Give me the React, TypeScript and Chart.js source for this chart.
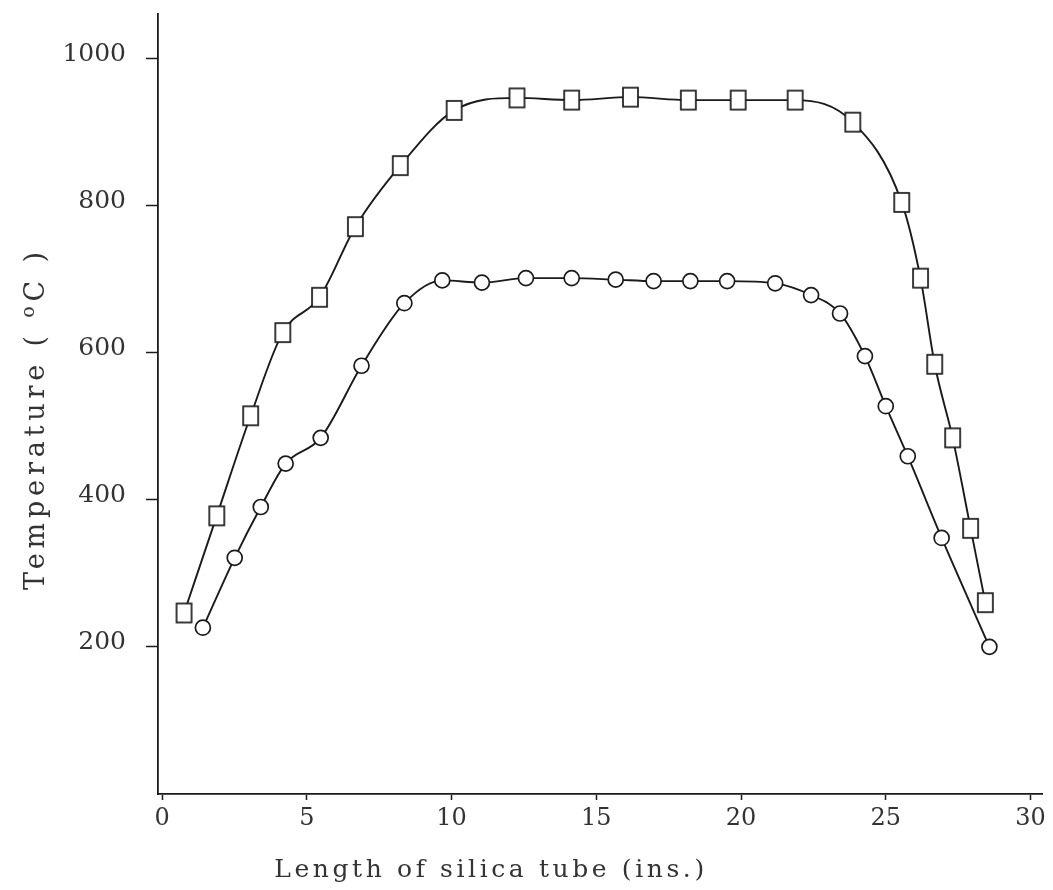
import React, { useEffect, useRef } from "react";
import { Chart, registerables } from "chart.js";

Chart.register(...registerables);

// Squares series (upper curve)
const squareX = [0.76, 1.89, 3.06, 4.17, 5.44, 6.68, 8.23, 10.09, 12.26, 14.15, 16.18, 18.18, 19.9, 21.87, 23.86, 25.55, 26.2, 26.69, 27.31, 27.93, 28.44];
const squareY = [246, 378, 514, 627, 675, 771, 854, 929, 946, 943, 947, 943, 943, 943, 913, 804, 701, 584, 484, 361, 260];

// Circles series (lower curve)
const circleX = [1.41, 2.51, 3.41, 4.27, 5.48, 6.89, 8.37, 9.68, 11.05, 12.57, 14.15, 15.67, 16.98, 18.25, 19.52, 21.18, 22.42, 23.42, 24.28, 25.0, 25.76, 26.93, 28.58];
const circleY = [226, 321, 390, 449, 484, 582, 667, 698, 695, 701, 701, 699, 697, 697, 697, 694, 678, 653, 595, 527, 459, 348, 200];

const xTicks = [0, 5, 10, 15, 20, 25, 30];
const yTicks = [200, 400, 600, 800, 1000];

const xTitle = "Length of silica tube (ins.)";
const yTitleParts = ["Temperature ( ", "o", "C )"];

const FONT = "'DejaVu Serif', 'Liberation Serif', serif";
const INK = "#1a1a1a";
const TEXT = "#333";

function makeRectStyle(w: number, h: number, lw: number) {
  const c = document.createElement("canvas");
  c.width = w + 4;
  c.height = h + 4;
  const ctx = c.getContext("2d")!;
  ctx.fillStyle = "#fff";
  ctx.fillRect(2, 2, w, h);
  ctx.strokeStyle = INK;
  ctx.lineWidth = lw;
  ctx.strokeRect(2, 2, w, h);
  return c;
}

const titlesPlugin = {
  id: "titles",
  afterDraw(chart: any) {
    const ctx = chart.ctx as CanvasRenderingContext2D;
    const xs = chart.scales.x;
    // x title
    ctx.save();
    ctx.fillStyle = TEXT;
    ctx.font = `25px ${FONT}`;
    ctx.textBaseline = "alphabetic";
    ctx.textAlign = "left";
    const target = 430;
    const w0 = ctx.measureText(xTitle).width;
    const ls = Math.max(0, (target - w0) / (xTitle.length - 1));
    (ctx as any).letterSpacing = `${ls}px`;
    const cx = xs.getPixelForValue(11.3);
    ctx.fillText(xTitle, cx - target / 2, 877);
    ctx.restore();

    // y title
    ctx.save();
    ctx.fillStyle = TEXT;
    ctx.translate(44, 421);
    ctx.rotate(-Math.PI / 2);
    ctx.textBaseline = "alphabetic";
    ctx.textAlign = "left";
    const big = `27px ${FONT}`;
    const small = `19px ${FONT}`;
    ctx.font = big;
    const w1 = ctx.measureText(yTitleParts[0]).width;
    const w3 = ctx.measureText(yTitleParts[2]).width;
    ctx.font = small;
    const w2 = ctx.measureText(yTitleParts[1]).width;
    const total = w1 + w2 + w3;
    const target2 = 338;
    const ls2 = Math.max(0, (target2 - total) / 17);
    (ctx as any).letterSpacing = `${ls2}px`;
    let x = -target2 / 2;
    ctx.font = big;
    ctx.fillText(yTitleParts[0], x, 0);
    x += w1 + ls2 * yTitleParts[0].length;
    ctx.font = small;
    ctx.fillText(yTitleParts[1], x, -10);
    x += w2 + ls2;
    ctx.font = big;
    ctx.fillText(yTitleParts[2], x, 0);
    ctx.restore();
  },
};

export default function App() {
  const ref = useRef<HTMLCanvasElement | null>(null);

  useEffect(() => {
    if (!ref.current) return;
    const rectStyle = makeRectStyle(15, 19, 1.7);
    const chart = new Chart(ref.current, {
      type: "scatter",
      data: {
        datasets: [
          {
            label: "squares",
            data: squareX.map((x, i) => ({ x, y: squareY[i] })),
            showLine: true,
            borderColor: INK,
            borderWidth: 1.9,
            cubicInterpolationMode: "monotone",
            pointStyle: rectStyle as any,
            pointRadius: 9,
          },
          {
            label: "circles",
            data: circleX.map((x, i) => ({ x, y: circleY[i] })),
            showLine: true,
            borderColor: INK,
            borderWidth: 1.9,
            cubicInterpolationMode: "monotone",
            pointStyle: "circle",
            pointRadius: 7.5,
            pointBackgroundColor: "#fff",
            pointBorderColor: INK,
            pointBorderWidth: 1.7,
          },
        ],
      },
      options: {
        animation: false,
        responsive: true,
        maintainAspectRatio: false,
        layout: { padding: { left: 0, right: 8, top: 14, bottom: 0 } },
        plugins: {
          legend: { display: false },
          tooltip: { enabled: false },
          title: { display: false },
        },
        scales: {
          x: {
            type: "linear",
            min: -0.14,
            max: 30.4,
            afterBuildTicks: (s: any) => {
              s.ticks = xTicks.map((v) => ({ value: v }));
            },
            afterFit: (s: any) => {
              s.height = 96;
            },
            border: { display: true, color: INK, width: 1.8 },
            grid: { display: true, drawOnChartArea: false, drawTicks: true, tickLength: 6, color: INK, tickWidth: 1.5 },
            ticks: {
              autoSkip: false,
              maxRotation: 0,
              padding: 4,
              color: TEXT,
              font: { family: FONT, size: 24 },
              callback: (v: any) => String(v),
            },
          },
          y: {
            type: "linear",
            min: 0,
            max: 1060,
            afterBuildTicks: (s: any) => {
              s.ticks = yTicks.map((v) => ({ value: v }));
            },
            afterFit: (s: any) => {
              s.width = 158;
              s.paddingTop = 0;
              s.paddingBottom = 0;
            },
            border: { display: true, color: INK, width: 1.8 },
            grid: { display: true, drawOnChartArea: false, drawTicks: true, tickLength: 12, color: INK, tickWidth: 1.5 },
            ticks: {
              autoSkip: false,
              padding: 20,
              labelOffset: -4,
              color: TEXT,
              font: { family: FONT, size: 25 },
              callback: (v: any) => String(v),
            },
          },
        },
      },
      plugins: [titlesPlugin],
    });
    return () => chart.destroy();
  }, []);

  return (
    <div style={{ position: "fixed", left: 0, top: 0, width: 1053, height: 890, background: "#fff" }}>
      <canvas ref={ref} />
    </div>
  );
}
